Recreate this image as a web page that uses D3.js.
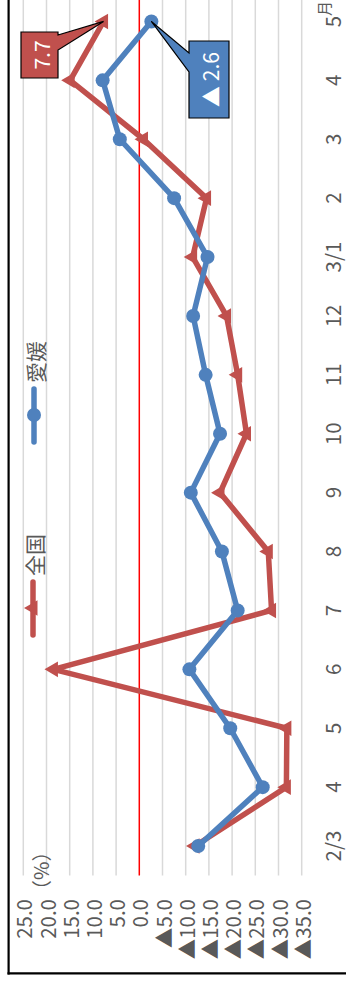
<!DOCTYPE html>
<html>
<head>
<meta charset="utf-8">
<script src="https://cdn.jsdelivr.net/npm/d3@7"></script>
<style>
  body { margin: 0; background: #fff; }
  svg { display: block; }
  text { font-family: "Noto Sans CJK JP", "Noto Sans", sans-serif; }
</style>
</head>
<body>
<svg id="chart" width="346" height="984"></svg>
<script>
// Monthly year-on-year change (%), 全国 vs 愛媛
const categories = ["2/3", "4", "5", "6", "7", "8", "9", "10", "11", "12", "3/1", "2", "3", "4", "5"];
const monthUnit = "月";
const seriesNames = ["全国", "愛媛"];
const national = [-12.0, -31.7, -31.8, 18.5, -28.5, -27.8, -17.4, -23.1, -21.2, -18.8, -11.5, -14.5, -0.9, 14.9, 7.7];
const ehime = [-12.7, -26.6, -19.6, -10.8, -21.2, -17.8, -11.1, -17.4, -14.3, -11.6, -14.7, -7.5, 4.2, 7.9, -2.6];
const yTicks = [25, 20, 15, 10, 5, 0, -5, -10, -15, -20, -25, -30, -35];
const unitLabel = "（%）";

const RED = "#c0504d", BLUE = "#4f81bd", TEXT = "#595959";
const fmtTick = v => (v < 0 ? "▲" : "") + Math.abs(v).toFixed(1);
const fmtLabel = v => (v < 0 ? "▲ " : "") + Math.abs(v).toFixed(1);

const svg = d3.select("#chart");
// The chart is laid out landscape (984 x 346) and turned a quarter turn counter-clockwise.
const g = svg.append("g").attr("transform", "translate(0,984) rotate(-90)");

const x = d3.scaleBand().domain(d3.range(categories.length)).range([108.5, 992]);
const cx = i => x(i) + x.bandwidth() / 2;
const y = d3.scaleLinear().domain([-35, 25]).range([301.7, 23.3]);

// frame
g.append("line").attr("x1", 10.7).attr("x2", 10.7).attr("y1", 7.5).attr("y2", 360)
  .attr("stroke", "#000").attr("stroke-width", 2.2);
g.append("line").attr("x1", 9.6).attr("x2", 1000).attr("y1", 8.6).attr("y2", 8.6)
  .attr("stroke", "#000").attr("stroke-width", 2.2);

// gridlines
g.append("g").selectAll("line").data(yTicks.filter(v => v !== 0)).join("line")
  .attr("x1", x.range()[0]).attr("x2", x.range()[1])
  .attr("y1", d => y(d)).attr("y2", d => y(d))
  .attr("stroke", "#d9d9d9").attr("stroke-width", 1.5);
g.append("line")
  .attr("x1", x.range()[0]).attr("x2", x.range()[1])
  .attr("y1", y(0)).attr("y2", y(0))
  .attr("stroke", "#ff0000").attr("stroke-width", 1.5);

// value axis labels
g.append("g").selectAll("text").data(yTicks).join("text")
  .attr("x", 85).attr("y", d => y(d))
  .attr("text-anchor", "end").attr("dominant-baseline", "central")
  .attr("font-size", 20.5).attr("fill", TEXT)
  .text(fmtTick);
g.append("text").attr("x", 84).attr("y", 40)
  .attr("dominant-baseline", "central")
  .attr("font-size", 20).attr("fill", TEXT).text(unitLabel);

// category labels
g.append("g").selectAll("text").data(categories).join("text")
  .attr("x", (d, i) => cx(i)).attr("y", 332)
  .attr("text-anchor", "middle").attr("dominant-baseline", "central")
  .attr("font-size", 20.5).attr("fill", TEXT)
  .text(d => d);
g.append("text").attr("x", cx(categories.length - 1) + 5.5).attr("y", 330)
  .attr("font-size", 15).attr("fill", TEXT).text(monthUnit);

// series
const line = d3.line().x((d, i) => cx(i)).y(d => y(d));
const tri = d3.symbol(d3.symbolTriangle, 105);

g.append("path").datum(national).attr("d", line)
  .attr("fill", "none").attr("stroke", RED).attr("stroke-width", 5.5)
  .attr("stroke-linejoin", "round").attr("stroke-linecap", "round");
g.append("g").selectAll("path").data(national).join("path")
  .attr("d", tri).attr("transform", (d, i) => `translate(${cx(i)},${y(d)})`)
  .attr("fill", RED);

g.append("path").datum(ehime).attr("d", line)
  .attr("fill", "none").attr("stroke", BLUE).attr("stroke-width", 5.5)
  .attr("stroke-linejoin", "round").attr("stroke-linecap", "round");
g.append("g").selectAll("circle").data(ehime).join("circle")
  .attr("cx", (d, i) => cx(i)).attr("cy", d => y(d)).attr("r", 7)
  .attr("fill", BLUE);

// legend
const legend = [
  { name: seriesNames[0], color: RED, x0: 349, y0: 33, marker: "tri" },
  { name: seriesNames[1], color: BLUE, x0: 542, y0: 34, marker: "circle" }
];
legend.forEach(l => {
  const lg = g.append("g");
  lg.append("line").attr("x1", l.x0).attr("x2", l.x0 + 53).attr("y1", l.y0).attr("y2", l.y0)
    .attr("stroke", l.color).attr("stroke-width", 5.5).attr("stroke-linecap", "round");
  if (l.marker === "tri") {
    lg.append("path").attr("d", tri).attr("transform", `translate(${l.x0 + 27},${l.y0})`).attr("fill", l.color);
  } else {
    lg.append("circle").attr("cx", l.x0 + 27).attr("cy", l.y0).attr("r", 7).attr("fill", l.color);
  }
  lg.append("text").attr("x", l.x0 + 59).attr("y", l.y0 + 1)
    .attr("dominant-baseline", "central").attr("font-size", 21).attr("fill", TEXT)
    .text(l.name);
});

// callouts for the latest values
const last = categories.length - 1;
function callout(value, color, box, wedge, side) {
  const tx = cx(last), ty = y(value);
  let p;
  if (side === "bottom") {
    p = `M${box.x0},${box.y0}L${box.x1},${box.y0}L${box.x1},${box.y1}L${wedge[1]},${box.y1}L${tx},${ty}L${wedge[0]},${box.y1}L${box.x0},${box.y1}Z`;
  } else {
    p = `M${box.x0},${box.y0}L${wedge[0]},${box.y0}L${tx},${ty}L${wedge[1]},${box.y0}L${box.x1},${box.y0}L${box.x1},${box.y1}L${box.x0},${box.y1}Z`;
  }
  g.append("path").attr("d", p).attr("fill", color).attr("stroke", "#000").attr("stroke-width", 1.2)
    .attr("stroke-linejoin", "miter");
  g.append("text").attr("x", (box.x0 + box.x1) / 2).attr("y", (box.y0 + box.y1) / 2 + 1)
    .attr("text-anchor", "middle").attr("dominant-baseline", "central")
    .attr("font-size", 21).attr("fill", "#fff").text(fmtLabel(value));
}
callout(national[last], RED, { x0: 906, x1: 952, y0: 21, y1: 58 }, [934, 949], "bottom");
callout(ehime[last], BLUE, { x0: 866, x1: 943, y0: 189, y1: 229 }, [912, 931], "top");
</script>
</body>
</html>
